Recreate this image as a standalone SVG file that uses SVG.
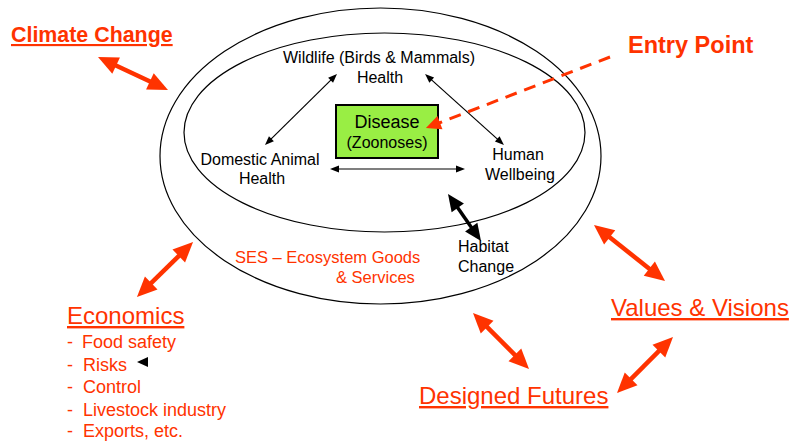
<svg xmlns="http://www.w3.org/2000/svg" width="790" height="446" viewBox="0 0 790 446">
<style>
text{font-family:"Liberation Sans",Arial,sans-serif}
.blk{fill:#000;font-size:16px}
.red{fill:#ff3300}
.ul{text-decoration:underline}
.ell{fill:none;stroke:#000;stroke-width:1.2}
.ra{stroke:#ff3300;stroke-width:4.5;fill:none}
.ta{stroke:#000;stroke-width:1.2;fill:none}
</style>
<defs>
<marker id="mr" markerUnits="userSpaceOnUse" markerWidth="22" markerHeight="20" refX="2" refY="9" orient="auto-start-reverse" overflow="visible"><path d="M0,0 L20,9 L0,18 z" fill="#ff3300"/></marker>
<marker id="mb" markerUnits="userSpaceOnUse" markerWidth="18" markerHeight="16" refX="1" refY="7.5" orient="auto-start-reverse" overflow="visible"><path d="M0,0 L17,7.5 L0,15 z" fill="#000"/></marker>
<marker id="mt" markerUnits="userSpaceOnUse" markerWidth="10" markerHeight="8" refX="1" refY="3.5" orient="auto-start-reverse" overflow="visible"><path d="M0,0 L9,3.5 L0,7 z" fill="#000"/></marker>
<marker id="me" markerUnits="userSpaceOnUse" markerWidth="16" markerHeight="15" refX="1" refY="7" orient="auto" overflow="visible"><path d="M0,0 L15,7 L0,14 z" fill="#ff3300"/></marker>
</defs>
<rect width="790" height="446" fill="#fff"/>
<g id="ses">
<ellipse class="ell" cx="380.5" cy="156" rx="220.5" ry="148"/>
<text class="red" font-size="16.5" x="235" y="263">SES –  Ecosystem Goods</text>
<text class="red" font-size="16.5" x="336" y="283">&amp; Services</text>
</g>
<g id="inner">
<ellipse class="ell" cx="384.5" cy="132.5" rx="200.5" ry="99.5"/>
</g>
<g id="wildlife">
<text class="blk" text-anchor="middle" x="379" y="63">Wildlife (Birds &amp; Mammals)</text>
<text class="blk" text-anchor="middle" x="380" y="83">Health</text>
</g>
<g id="domestic">
<text class="blk" text-anchor="middle" x="260" y="165">Domestic Animal</text>
<text class="blk" text-anchor="middle" x="262" y="184">Health</text>
</g>
<g id="human">
<text class="blk" text-anchor="middle" x="518" y="160">Human</text>
<text class="blk" text-anchor="middle" x="520" y="180">Wellbeing</text>
</g>
<g id="disease">
<rect x="336" y="105" width="102" height="53" fill="#99ee44" stroke="#000" stroke-width="2"/>
<text text-anchor="middle" x="387" y="128" font-size="18" fill="#000">Disease</text>
<text text-anchor="middle" x="387" y="148" font-size="16" fill="#000">(Zoonoses)</text>
</g>
<g id="habitat">
<text class="blk" x="458" y="252">Habitat</text>
<text class="blk" x="458" y="272">Change</text>
</g>
<g id="climate">
<text class="red ul" font-size="21.4" font-weight="bold" x="11" y="42">Climate Change</text>
</g>
<g id="entry">
<text class="red" font-size="23.5" font-weight="bold" x="628" y="53">Entry Point</text>
</g>
<g id="economics">
<text class="red ul" font-size="24" x="67" y="324">Economics</text>
<text class="red" font-size="18" x="67" y="348">-  <tspan x="82">Food safety</tspan></text>
<text class="red" font-size="18" x="67" y="371">-  <tspan x="83">Risks</tspan></text>
<text class="red" font-size="18" x="67" y="393">-  <tspan x="83">Control</tspan></text>
<text class="red" font-size="18" x="67" y="416">-  <tspan x="83">Livestock industry</tspan></text>
<text class="red" font-size="18" x="67" y="437">-  <tspan x="83">Exports, etc.</tspan></text>
<polygon points="137,362 148,357 148,367" fill="#000"/>
</g>
<g id="values">
<text class="red ul" font-size="24" x="611" y="316">Values &amp; Visions</text>
</g>
<g id="futures">
<text class="red ul" font-size="24" x="419" y="404">Designed Futures</text>
</g>
<g id="connectors">
<line class="ra" x1="114.3" y1="64.7" x2="151.7" y2="82.3" marker-start="url(#mr)" marker-end="url(#mr)"/>
<line class="ra" x1="180.2" y1="254.6" x2="149.8" y2="284.4" marker-start="url(#mr)" marker-end="url(#mr)"/>
<line class="ra" x1="608.1" y1="236.1" x2="650.9" y2="269.9" marker-start="url(#mr)" marker-end="url(#mr)"/>
<line class="ra" x1="485.7" y1="325.7" x2="516.3" y2="356.3" marker-start="url(#mr)" marker-end="url(#mr)"/>
<line class="ra" x1="660.3" y1="349.7" x2="629.7" y2="380.3" marker-start="url(#mr)" marker-end="url(#mr)"/>
<line x1="457.2" y1="207.1" x2="471.8" y2="227.9" stroke="#000" stroke-width="3.5" marker-start="url(#mb)" marker-end="url(#mb)"/>
<line class="ta" x1="331.3" y1="79.6" x2="270.7" y2="139.4" marker-start="url(#mt)" marker-end="url(#mt)"/>
<line class="ta" x1="431" y1="79.4" x2="498" y2="139.6" marker-start="url(#mt)" marker-end="url(#mt)"/>
<line x1="338" y1="169" x2="457" y2="169" stroke="#555" stroke-width="1.5" marker-start="url(#mt)" marker-end="url(#mt)"/>
<line x1="610" y1="57" x2="439" y2="123" stroke="#ff3300" stroke-width="3" stroke-dasharray="12 8" marker-end="url(#me)"/>
</g>
</svg>
